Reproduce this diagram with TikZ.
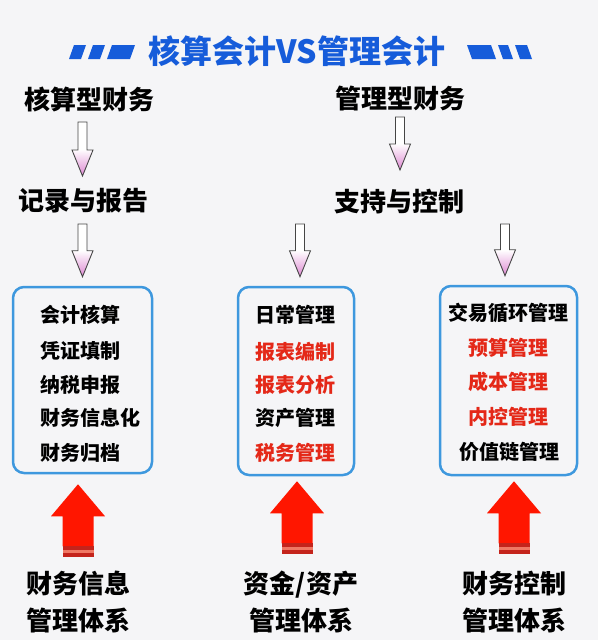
\documentclass[tikz,border=0pt]{standalone}
\usepackage{fontspec}
\setmainfont{Noto Sans CJK SC}
\usetikzlibrary{calc}
\definecolor{bg}{RGB}{245,245,247}
\definecolor{tblue}{RGB}{22,92,218}
\definecolor{boxblue}{RGB}{62,152,222}
\definecolor{itemred}{RGB}{228,40,24}
\definecolor{arrred}{RGB}{255,22,0}
\definecolor{darkred}{RGB}{196,36,28}
\definecolor{lightred}{RGB}{240,120,100}
\definecolor{pinktip}{RGB}{222,135,210}
\definecolor{outline}{RGB}{70,70,70}
\tikzset{
  titlestyle/.style={font=\fontsize{32}{32}\selectfont\bfseries, text=tblue, inner sep=0},
  headstyle/.style={font=\fontsize{26}{26}\selectfont\bfseries, text=black, inner sep=0},
  boxstyle/.style={draw=boxblue, line width=2.5pt, rounded corners=11pt, fill=bg, inner sep=0},
  itemstyle/.style={font=\fontsize{20}{20}\selectfont\bfseries, inner sep=0},
  itemred/.style={itemstyle, text=itemred},
  lblstyle/.style={font=\fontsize{26}{37}\selectfont\bfseries, align=center, inner sep=0},
  hollow/.style={draw=outline, line width=0.9pt, top color=white, bottom color=pinktip, middle color=white},
  deco/.style={fill=tblue}
}
% hollow down arrow: #1 x-reference, #2 top, #3 tip
\newcommand\harrow[3]{%
  \draw[hollow] let \p0=(#1), \p1=(#2), \p2=(#3) in
    (\x0-4.5pt,\y1) -- (\x0+4.5pt,\y1) -- (\x0+4.5pt,\y2+26pt) -- (\x0+10.5pt,\y2+26pt)
    -- (\x0,\y2) -- (\x0-10.5pt,\y2+26pt) -- (\x0-4.5pt,\y2+26pt) -- cycle;}
% red up arrow: #1 x-reference, #2 tip
\newcommand\rarrow[2]{%
  \fill[arrred] let \p0=(#1), \p1=(#2) in
    (\x0,\y1) -- (\x0+27pt,\y1-32pt) -- (\x0+15.5pt,\y1-32pt) -- (\x0+15.5pt,\y1-62pt)
    -- (\x0-15.5pt,\y1-62pt) -- (\x0-15.5pt,\y1-32pt) -- (\x0-27pt,\y1-32pt) -- cycle;
  \fill[darkred] let \p0=(#1), \p1=(#2) in (\x0-15.5pt,\y1-62pt) rectangle (\x0+15.5pt,\y1-65.5pt);
  \fill[lightred] let \p0=(#1), \p1=(#2) in (\x0-15.5pt,\y1-65.5pt) rectangle (\x0+15.5pt,\y1-68.5pt);
  \fill[darkred] let \p0=(#1), \p1=(#2) in (\x0-15.5pt,\y1-68.5pt) rectangle (\x0+15.5pt,\y1-73pt);}
\begin{document}
\begin{tikzpicture}[x=1pt,y=-1pt]
\fill[bg] (0,0) rectangle (598,640);
\useasboundingbox (0,0) rectangle (598,640);

% title
\node[titlestyle] (title) at (297,51) {核算会计VS管理会计};
\fill[deco] (69,59) -- (74,45) -- (86,45) -- (81,59) -- cycle;
\fill[deco] (88,59) -- (93,45) -- (105,45) -- (100,59) -- cycle;
\fill[deco] (107,59) -- (112,45) -- (135,45) -- (130,59) -- cycle;
\fill[deco] (467,45) -- (491,45) -- (496,59) -- (472,59) -- cycle;
\fill[deco] (498,45) -- (508,45) -- (513,59) -- (503,59) -- cycle;
\fill[deco] (515,45) -- (527,45) -- (532,59) -- (520,59) -- cycle;

% headings
\node[headstyle] (h1) at (89,99) {核算型财务};
\node[headstyle] (r1) at (83,201) {记录与报告};
\node[headstyle] (h2) at (400,99) {管理型财务};
\node[headstyle] (r2) at (399,202) {支持与控制};

% boxes
\node[boxstyle, minimum width=139, minimum height=186] (box1) at (82.5,380) {};
\node[boxstyle, minimum width=116, minimum height=188] (box2) at (296,381) {};
\node[boxstyle, minimum width=137, minimum height=189] (box3) at (508.5,380.5) {};

% box 1 items
\node[itemstyle, anchor=west] (b1i1) at (40,315) {会计核算};
\node[itemstyle, anchor=west] (b1i2) at (40,351) {凭证填制};
\node[itemstyle, anchor=west] (b1i3) at (40,385) {纳税申报};
\node[itemstyle, anchor=west] (b1i4) at (40,418) {财务信息化};
\node[itemstyle, anchor=west] (b1i5) at (40,453) {财务归档};
% box 2 items
\node[itemstyle, anchor=west] (b2i1) at (255,315) {日常管理};
\node[itemred, anchor=west] (b2i2) at (255,352) {报表编制};
\node[itemred, anchor=west] (b2i3) at (255,385) {报表分析};
\node[itemstyle, anchor=west] (b2i4) at (255,418) {资产管理};
\node[itemred, anchor=west] (b2i5) at (255,453) {税务管理};
% box 3 items
\node[itemstyle] (b3i1) at (508,313) {交易循环管理};
\node[itemred] (b3i2) at (508,348) {预算管理};
\node[itemred] (b3i3) at (508,382) {成本管理};
\node[itemred] (b3i4) at (508,417) {内控管理};
\node[itemstyle] (b3i5) at (509,452) {价值链管理};

% bottom labels
\node[lblstyle] (l1) at (78,602) {财务信息\\管理体系};
\node[lblstyle] (l2) at (301,602) {资金/资产\\管理体系};
\node[lblstyle] (l3) at (514,602) {财务控制\\管理体系};

% hollow arrows
\harrow{box1.north}{$(h1)+(0,23)$}{$(r1)+(0,-25)$}
\harrow{box1.north}{$(r1)+(0,23)$}{$(box1.north)+(0,-9)$}
\harrow{h2}{$(h2)+(0,18)$}{$(r2)+(0,-32)$}
\harrow{$(box2.north)+(4,0)$}{$(r2)+(0,22)$}{$(box2.north)+(0,-9)$}
\harrow{$(box3.north)+(-3.5,0)$}{$(r2)+(0,22)$}{$(box3.north)+(0,-9)$}

% red arrows
\rarrow{l1}{$(box1.south)+(0,10)$}
\rarrow{$(l2)+(-4,0)$}{$(box2.south)+(0,5)$}
\rarrow{l3}{$(box3.south)+(0,5)$}
\end{tikzpicture}
\end{document}
